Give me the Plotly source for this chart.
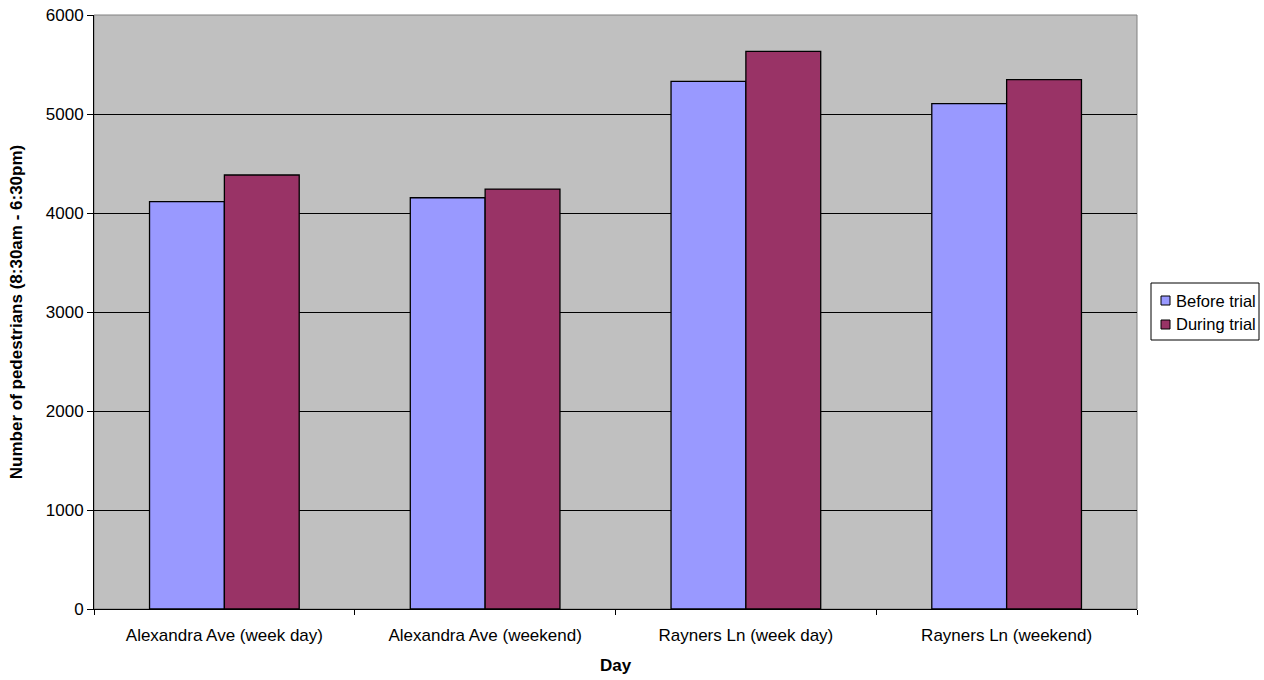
import plotly.graph_objects as go

categories = ["Alexandra Ave (week day)", "Alexandra Ave (weekend)",
              "Rayners Ln (week day)", "Rayners Ln (weekend)"]
before_trial = [4114, 4154, 5330, 5105]
during_trial = [4384, 4242, 5633, 5347]
series_names = ["Before trial", "During trial"]
series_colors = ["#9999FF", "#993366"]
y_ticks = [0, 1000, 2000, 3000, 4000, 5000, 6000]

W, H = 1264, 680
L, R, T, B = 94, 127, 15, 71
PW, PH = W - L - R, H - T - B

def px_x(px):
    return (px - L) / PW

def px_y(py):
    return (H - B - py) / PH

FONT = "Liberation Sans, Arial, sans-serif"

fig = go.Figure()
for name, vals, col in zip(series_names, [before_trial, during_trial], series_colors):
    fig.add_trace(go.Bar(x=categories, y=vals, name=name, showlegend=False,
                         marker=dict(color=col, line=dict(color="black", width=1.3))))

fig.update_layout(
    width=W, height=H,
    margin=dict(l=L, r=R, t=T, b=B, autoexpand=False),
    paper_bgcolor="white", plot_bgcolor="#C0C0C0",
    font=dict(family=FONT, size=17, color="black"),
    bargap=0.426, bargroupgap=0,
    xaxis=dict(title=dict(text="<b>Day</b>", font=dict(size=17), standoff=14),
               automargin=False,
               tickson="boundaries", ticks="outside", ticklen=5, tickcolor="black",
               ticklabelstandoff=11,
               showline=True, linecolor="black", linewidth=1,
               showgrid=False, tickfont=dict(size=17)),
    yaxis=dict(title=dict(text="<b>Number of pedestrians (8:30am - 6:30pm)</b>", font=dict(size=17), standoff=18),
               automargin=False,
               range=[0, 6000], tickvals=y_ticks, ticks="outside", ticklen=6, tickcolor="black",
               showline=True, linecolor="black", linewidth=1,
               showgrid=True, gridcolor="black", gridwidth=1, zeroline=False,
               tickfont=dict(size=17)),
)
fig.add_shape(type="rect", xref="paper", yref="paper", x0=0, y0=0, x1=1, y1=1,
              line=dict(color="#808080", width=1), layer="below")

# legend box (drawn manually to match the compact Excel-style legend)
fig.add_shape(type="rect", xref="paper", yref="paper",
              x0=px_x(1151), x1=px_x(1259), y0=px_y(340), y1=px_y(283),
              line=dict(color="black", width=1), fillcolor="white")
for i, (name, col) in enumerate(zip(series_names, series_colors)):
    cy = 300.5 + 24 * i
    fig.add_shape(type="rect", xref="paper", yref="paper",
                  x0=px_x(1161), x1=px_x(1170), y0=px_y(cy + 4.5), y1=px_y(cy - 4.5),
                  line=dict(color="black", width=1), fillcolor=col)
    fig.add_annotation(xref="paper", yref="paper", x=px_x(1174), y=px_y(cy),
                       xanchor="left", yanchor="middle", showarrow=False,
                       text=name, font=dict(family=FONT, size=16.5, color="black"))

fig.write_html("out.html", config={"displayModeBar": False},
               post_script="document.body.style.margin='0';")
